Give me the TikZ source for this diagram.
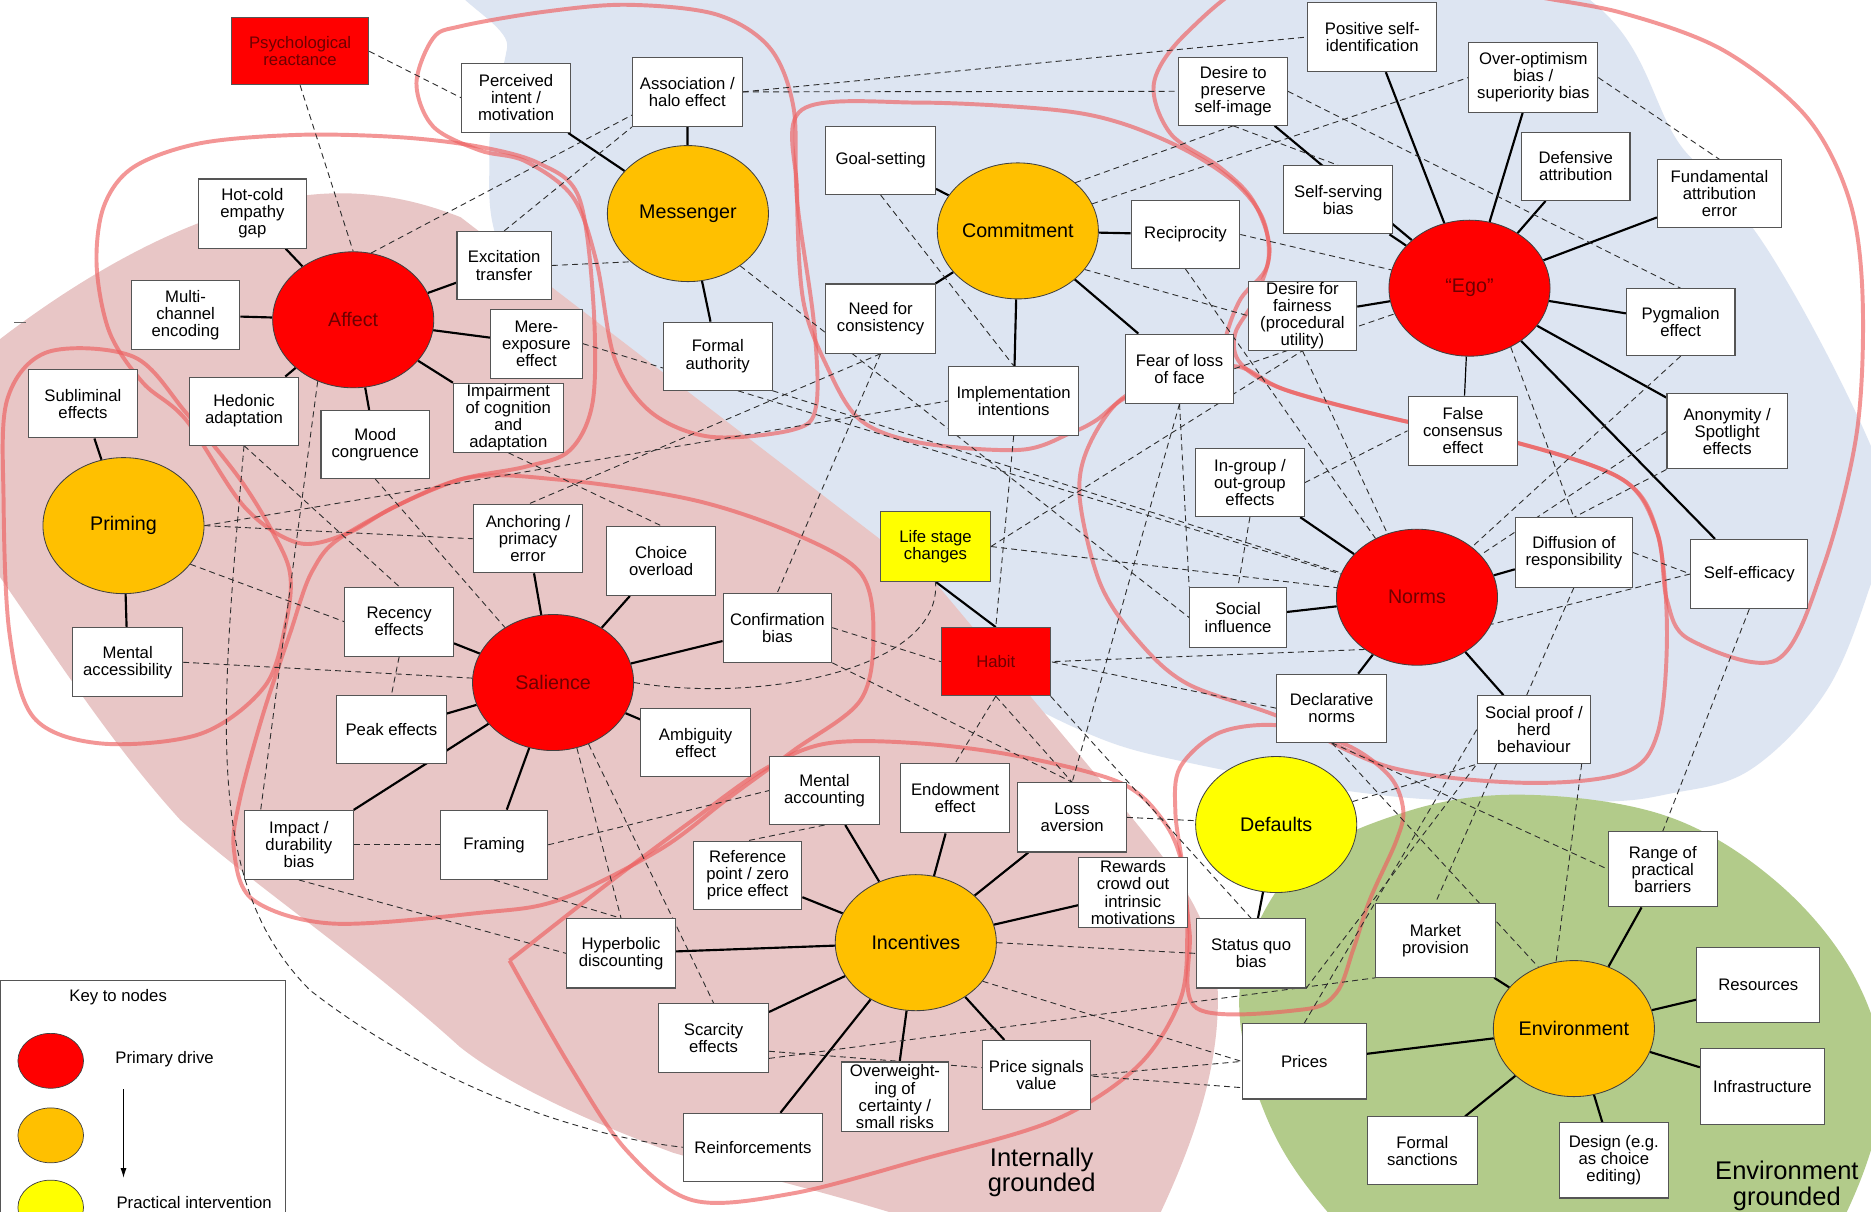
\documentclass[tikz,border=0pt]{standalone}
\usepackage{fontspec}
\setmainfont{Liberation Sans}
\usetikzlibrary{shapes.geometric,calc,arrows.meta}
\definecolor{pinkbg}{RGB}{232,198,198}
\definecolor{bluebg}{RGB}{221,229,242}
\definecolor{greenbg}{RGB}{178,203,138}
\definecolor{loopred}{RGB}{238,95,95}
\definecolor{hubred}{RGB}{255,0,0}
\definecolor{hubor}{RGB}{255,192,0}
\definecolor{hubyel}{RGB}{255,255,0}
\definecolor{redtxt}{RGB}{110,0,0}
\definecolor{boxline}{RGB}{85,85,85}
\definecolor{dashc}{RGB}{45,45,45}
\pgfdeclarelayer{bglayer}
\pgfdeclarelayer{looplayer}
\pgfdeclarelayer{edgelayer}
\pgfsetlayers{bglayer,looplayer,edgelayer,main}
\begin{document}
\begin{tikzpicture}[x=1pt,y=-1pt,
  bx/.style={draw=boxline,line width=0.9pt,fill=white,align=center,inner sep=1pt,font=\fontsize{14}{14.3}\selectfont,text=black},
  B/.style n args={2}{bx,minimum width=#1,minimum height=#2},
  hub/.style n args={2}{ellipse,draw=black!75,line width=0.7pt,fill=#1,text=#2,minimum width=135,minimum height=114,inner sep=0pt,font=\fontsize{16.5}{18}\selectfont},
  keyell/.style={ellipse,draw=black!75,line width=0.6pt,minimum width=55,minimum height=46,inner sep=0pt},
  sol/.style={line width=1.8pt,black},
  dsh/.style={draw=dashc,line width=0.75pt,dash pattern=on 5pt off 3.5pt},
  lp/.style={draw=loopred,line width=3.3pt,opacity=0.65,line join=round},
  big/.style={align=center,font=\fontsize{21.4}{21.5}\selectfont},
]
\useasboundingbox (0,0) rectangle (1568,1015);

% ---------------- hubs
\node[hub={hubred}{redtxt}] (aff) at (296,268) {Affect};
\node[hub={hubor}{black}] (mess) at (576.5,179) {Messenger};
\node[hub={hubor}{black}] (comm) at (853,193.5) {Commitment};
\node[hub={hubred}{redtxt}] (ego) at (1231.5,241.5) {``Ego''};
\node[hub={hubred}{redtxt}] (norms) at (1187.5,500.5) {Norms};
\node[hub={hubor}{black}] (prim) at (103.5,440.5) {Priming};
\node[hub={hubred}{redtxt}] (sal) at (463.5,572) {Salience};
\node[hub={hubor}{black}] (inc) at (767.5,790) {Incentives};
\node[hub={hubyel}{black}] (defaults) at (1069.5,691) {Defaults};
\node[hub={hubor}{black}] (env) at (1319,862) {Environment};

% ---------------- boxes
\node[B={115}{56},fill=hubred,text=redtxt] (psych) at (251.5,43) {Psychological\\reactance};
\node[B={91}{58}] (perc) at (432.5,82) {Perceived\\intent /\\motivation};
\node[B={92}{58}] (assoc) at (576,77) {Association /\\halo effect};
\node[B={91}{58}] (hotcold) at (211.5,179) {Hot-cold\\empathy\\gap};
\node[B={91}{58}] (multi) at (155.5,264) {Multi-\\channel\\encoding};
\node[B={79}{57}] (excit) at (422.5,222.5) {Excitation\\transfer};
\node[B={77}{58}] (mere) at (449.5,288) {Mere-\\exposure\\effect};
\node[B={92}{58}] (impair) at (426,350) {Impairment\\of cognition\\and\\adaptation};
\node[B={91}{57}] (subl) at (69.5,338.5) {Subliminal\\effects};
\node[B={91}{57}] (hedonic) at (204.5,344.5) {Hedonic\\adaptation};
\node[B={91}{57}] (mood) at (314.5,372.5) {Mood\\congruence};
\node[B={92}{57}] (goal) at (738,134.5) {Goal-setting};
\node[B={92}{58}] (need) at (738,267) {Need for\\consistency};
\node[B={91}{57}] (formal) at (601.5,298.5) {Formal\\authority};
\node[B={109}{58}] (impl) at (849.5,336) {Implementation\\intentions};
\node[B={91}{57}] (recip) at (993.5,196.5) {Reciprocity};
\node[B={91}{58}] (fear) at (988.5,309) {Fear of loss\\of face};
\node[B={91}{57}] (desirepres) at (1033.5,76.5) {Desire to\\preserve\\self-image};
\node[B={108}{58}] (posself) at (1150,31) {Positive self-\\identification};
\node[B={108}{58}] (overopt) at (1285,65) {Over-optimism\\bias /\\superiority bias};
\node[B={91}{57}] (defens) at (1320.5,139.5) {Defensive\\attribution};
\node[B={104}{57}] (fundam) at (1441,162.5) {Fundamental\\attribution\\error};
\node[B={91}{57}] (selfserv) at (1121.5,167.5) {Self-serving\\bias};
\node[B={91}{57}] (fairness) at (1091.5,264.5) {Desire for\\fairness\\(procedural\\utility)};
\node[B={91}{56}] (pygm) at (1408.5,270) {Pygmalion\\effect};
\node[B={92}{58}] (falsecons) at (1226,361) {False\\consensus\\effect};
\node[B={101}{63}] (anon) at (1447.5,361.5) {Anonymity /\\Spotlight\\effects};
\node[B={91}{57}] (ingroup) at (1047.5,404.5) {In-group /\\out-group\\effects};
\node[B={98}{58}] (diffusion) at (1319,463) {Diffusion of\\responsibility};
\node[B={98}{58}] (selfeff) at (1466,481) {Self-efficacy};
\node[B={81}{51}] (socinf) at (1037.5,517.5) {Social\\influence};
\node[B={92}{58},fill=hubyel] (life) at (784,458) {Life stage\\changes};
\node[B={91}{57},fill=hubred,text=redtxt] (habit) at (834.5,554.5) {Habit};
\node[B={92}{57}] (decl) at (1116,593.5) {Declarative\\norms};
\node[B={95}{57}] (socproof) at (1285.5,611.5) {Social proof /\\herd\\behaviour};
\node[B={91}{57}] (anchor) at (442.5,451.5) {Anchoring /\\primacy\\error};
\node[B={92}{58}] (choice) at (554,470) {Choice\\overload};
\node[B={91}{58}] (confirm) at (651.5,526) {Confirmation\\bias};
\node[B={91}{58}] (recency) at (334.5,521) {Recency\\effects};
\node[B={92}{58}] (mentacc) at (107,555) {Mental\\accessibility};
\node[B={92}{57}] (peak) at (328,611.5) {Peak effects};
\node[B={92}{57}] (ambig) at (583,622.5) {Ambiguity\\effect};
\node[B={92}{57}] (mentacct) at (691,662.5) {Mental\\accounting};
\node[B={91}{58}] (endow) at (800.5,669) {Endowment\\effect};
\node[B={91}{58}] (loss) at (898.5,685) {Loss\\aversion};
\node[B={91}{58}] (impact) at (250.5,708) {Impact /\\durability\\bias};
\node[B={90}{58}] (framing) at (414,708) {Framing};
\node[B={91}{57}] (refpt) at (626.5,733.5) {Reference\\point / zero\\price effect};
\node[B={91}{58}] (rewards) at (949.5,748) {Rewards\\crowd out\\intrinsic\\motivations};
\node[B={91}{58}] (hyper) at (520.5,799) {Hyperbolic\\discounting};
\node[B={91}{58}] (statusquo) at (1048.5,799) {Status quo\\bias};
\node[B={100}{62}] (market) at (1203,788) {Market\\provision};
\node[B={91}{63}] (range) at (1393.5,728.5) {Range of\\practical\\barriers};
\node[B={103}{63}] (resources) at (1473.5,825.5) {Resources};
\node[B={104}{63}] (infra) at (1477,910.5) {Infrastructure};
\node[B={92}{57}] (formalsanc) at (1192,964.5) {Formal\\sanctions};
\node[B={91}{63}] (design) at (1352.5,972.5) {Design (e.g.\\as choice\\editing)};
\node[B={104}{63}] (prices) at (1093,889.5) {Prices};
\node[B={92}{58}] (scarcity) at (598,870) {Scarcity\\effects};
\node[B={90}{58}] (overw) at (750,919) {Overweight-\\ing of\\certainty /\\small risks};
\node[B={91}{58}] (pricesig) at (868.5,901) {Price signals\\value};
\node[B={116}{57}] (reinf) at (631,961.5) {Reinforcements};

% ---------------- labels
\node[big] (intg) at (873,982.5) {Internally\\grounded};
\node[big] (envg) at (1497.5,994) {Environment\\grounded};

% ---------------- key
\draw[draw=boxline,fill=white,line width=0.9pt] (0,822) rectangle (239,1030);
\node[font=\fontsize{14}{16}\selectfont] (keyt) at (99,836) {Key to nodes};
\node[keyell,fill=hubred] (kred) at (42.5,889) {};
\node[keyell,fill=hubor] (kor) at (42.5,951.5) {};
\node[keyell,fill=hubyel] (kyel) at (42.5,1012) {};
\node[anchor=west,inner sep=0pt,font=\fontsize{14}{16}\selectfont] (kprim) at (96.5,888) {Primary drive};
\node[anchor=west,inner sep=0pt,font=\fontsize{14}{16}\selectfont] (kprac) at (97.5,1008) {Practical intervention};
\coordinate (ka) at (103.5,913);
\coordinate (kb) at (103.5,987);
\draw[-{Latex[length=8pt,width=5pt]},line width=0.8pt] (ka) -- (kb);

% ---------------- backgrounds
\begin{pgfonlayer}{bglayer}
\fill[white] (0,0) rectangle (1568,1015);
\fill[bluebg] plot[smooth cycle,tension=0.6] coordinates {(440,-40) (1230,-40) (1416,131) (1500,240) (1585,420) (1567,492) (1530,580) (1467,645) (1400,665) (1333,672) (1173,668) (1000,640) (899,609) (760,530) (560,390) (430,230) (410,130) (425,40)};
\fill[pinkbg] (-20,300) .. controls (60,235) and (180,160) .. (290,162) .. controls (330,163) and (360,172) .. (386,182) -- (782,486) -- (950,687) .. controls (985,730) and (1015,770) .. (1020,820) .. controls (1025,890) and (1000,960) .. (966,1030) -- (790,1030) .. controls (700,1000) and (630,985) .. (564,966) .. controls (480,935) and (420,905) .. (385,877) .. controls (300,800) and (210,740) .. (151,687) .. controls (90,620) and (40,540) .. (-20,455) -- cycle;
\fill[greenbg] plot[smooth cycle,tension=0.6] coordinates {(1040,820) (1085,728) (1176,681) (1276,666) (1397,684) (1490,740) (1555,820) (1578,910) (1548,1015) (1480,1120) (1250,1150) (1112,1015) (1055,920)};
\draw[black!60,line width=1pt] (12,270) -- (22,270);
\end{pgfonlayer}

% ---------------- red group outlines
\begin{pgfonlayer}{looplayer}
\draw[lp] plot[smooth cycle,tension=0.55] coordinates {(6,335) (40,295) (112,299) (156,346) (200,400) (228,445) (243,480) (240,520) (222,575) (168,615) (84,623) (28,601) (8,531) (3,420)};
\draw[lp] plot[smooth cycle,tension=0.55] coordinates {(402,123) (452,137) (485,165) (497,250) (497,335) (478,377) (441,391) (385,402) (330,425) (291,447) (250,455) (205,425) (156,352) (120,321) (92,279) (81,223) (87,173) (112,140) (168,120) (251,113) (335,115)};
\draw[lp] plot[smooth cycle,tension=0.55] coordinates {(386,22) (455,10) (525,4) (600,12) (645,40) (665,90) (668,168) (682,270) (684,340) (665,360) (595,366) (545,345) (515,300) (500,220) (480,165) (440,135) (402,126) (363,106) (349,70) (363,32)};
\draw[lp] plot[smooth cycle,tension=0.55] coordinates {(672,92) (771,86) (883,92) (939,103) (994,126) (1036,154) (1059,185) (1062,223) (1040,250) (1028,280) (1025,305) (985,322) (944,333) (919,352) (897,363) (855,377) (771,371) (721,352) (693,307) (673,251) (668,160)};
\draw[lp] plot[smooth cycle,tension=0.55] coordinates {(1060,-20) (994,28) (967,70) (981,112) (1022,140) (1050,168) (1064,209) (1052,250) (1035,280) (1040,305) (1078,327) (1173,352) (1271,371) (1360,402) (1389,447) (1397,503) (1416,536) (1489,553) (1528,475) (1556,363) (1561,251) (1550,168) (1514,98) (1444,42) (1360,11) (1277,-5) (1170,-30)};
\draw[lp] plot[smooth cycle,tension=0.55] coordinates {(939,335) (985,316) (1036,307) (1078,327) (1173,352) (1271,371) (1360,402) (1389,447) (1397,531) (1389,615) (1360,648) (1276,656) (1165,643) (1073,601) (995,573) (953,536) (922,489) (905,419) (911,377)};
\draw[lp] plot[smooth cycle,tension=0.55] coordinates {(291,447) (385,402) (469,402) (581,419) (665,447) (721,480) (732,531) (721,587) (665,629) (609,670) (553,712) (469,754) (402,765) (279,774) (212,754) (196,712) (201,670) (220,600) (243,531) (262,478)};
\draw[lp] plot[smooth,tension=0.55] coordinates {(427,805) (510,740) (581,687) (640,645) (693,623) (771,623) (855,634) (939,656) (975,688) (991,726) (995,782) (989,838) (953,894) (883,939) (771,972) (665,1000) (581,1006) (525,964) (478,894) (427,805)};
\draw[lp] plot[smooth cycle,tension=0.55] coordinates {(989,643) (1022,614) (1073,608) (1130,625) (1165,651) (1176,679) (1170,705) (1148,754) (1134,796) (1120,832) (1092,846) (1003,845) (997,782) (991,726) (985,680)};
\end{pgfonlayer}

% ---------------- connectors
\begin{pgfonlayer}{edgelayer}
% solid hub links
\foreach \t in {hotcold,multi,excit,mere,impair,mood,hedonic} \draw[sol] (aff) -- (\t);
\foreach \t in {perc,assoc,formal} \draw[sol] (mess) -- (\t);
\foreach \t in {goal,need,recip,impl,fear} \draw[sol] (comm) -- (\t);
\foreach \t in {desirepres,posself,overopt,defens,fundam,selfserv,fairness,pygm,anon,selfeff} \draw[sol] (ego) -- (\t);
\draw[line width=1pt,black] (ego) -- (falsecons);
\foreach \t in {ingroup,socinf,diffusion,decl,socproof} \draw[sol] (norms) -- (\t);
\foreach \t in {subl,mentacc} \draw[sol] (prim) -- (\t);
\foreach \t in {anchor,choice,confirm,recency,peak,ambig,impact,framing} \draw[sol] (sal) -- (\t);
\foreach \t in {mentacct,endow,loss,refpt,rewards,hyper,scarcity,reinf,overw,pricesig} \draw[sol] (inc) -- (\t);
\foreach \t in {market,range,resources,infra,design,formalsanc,prices} \draw[sol] (env) -- (\t);
\draw[sol] (life.south) -- (habit.north);
\draw[sol] (defaults) -- (statusquo);

% dashed cross links
\draw[dsh] (psych.east) -- (perc.west);
\draw[dsh] (psych.south) -- (aff.north);
\draw[dsh] (aff.75) -- ($(assoc.south west)+(0,-10)$);
\draw[dsh] (excit.north) -- (assoc.south west);
\draw[dsh] (excit.east) -- (mess.220);
\draw[dsh] (assoc.east) -- (posself.west);
\draw[dsh] (assoc.east) -- (desirepres.west);
\draw[dsh] (mess.-45) -- (socinf.west);
\draw[dsh] (formal.south east) -- (norms);
\draw[dsh] (mere.east) -- (norms);
\draw[dsh] (need.south) -- (anchor.north);
\draw[dsh] (need.south) -- (confirm.north);
\draw[dsh] (goal.south) -- (impl.north);
\draw[dsh] (comm.40) -- (desirepres.south);
\draw[dsh] (comm.20) -- (overopt.west);
\draw[dsh] (comm.-30) -- (fairness.west);
\draw[dsh] (recip.east) -- (ego);
\draw[dsh] (recip.south) -- (norms);
\draw[dsh] (desirepres.south) -- (selfserv.north);
\draw[dsh] (desirepres.east) -- (pygm.north);
\draw[dsh] (overopt.east) -- (fundam.north);
\draw[dsh] (pygm.south) -- (norms);
\draw[dsh] (anon.west) -- (norms);
\draw[dsh] (anon.south west) -- (diffusion.north);
\draw[dsh] (ingroup.east) -- (falsecons.west);
\draw[dsh] (fear.east) -- (ego);
\draw[dsh] (ego.-55) -- (diffusion.north);
\draw[dsh] (diffusion.east) -- (selfeff.west);
\draw[dsh] (selfeff.west) -- (norms.-20);
\draw[dsh] (selfeff.south) -- (range.north);
\draw[dsh] (diffusion.south) -- (market.north);
\draw[dsh] ([xshift=40pt]socproof.south) -- (env.105);
\draw[dsh] (socproof.west) -- (prices.north);
\draw[dsh] (statusquo.south east) -- (socproof.south west);
\draw[dsh] (decl.south) -- (range.west);
\draw[dsh] (decl.south) -- (env.120);
\draw[dsh] (defaults) -- (socproof.south west);
\draw[dsh] (loss.east) -- (defaults);
\draw[dsh] (inc.east) -- (statusquo.west);
\draw[dsh] (inc.-30) -- (prices.west);
\draw[dsh] (pricesig.east) -- (prices.west);
\draw[dsh] ([yshift=-11pt]scarcity.east) -- ([yshift=-22pt]prices.west);
\draw[dsh] ([yshift=-17pt]scarcity.east) -- (market.south west);
\draw[dsh] (habit.south east) -- (statusquo.north);
\draw[dsh] (fear.south) -- (loss.north);
\draw[dsh] (fear.south) -- (socinf.north west);
\draw[dsh] (impl.south) -- (habit.north);
\draw[dsh] (life.east) -- (fairness.south);
\draw[dsh] (life.east) -- (norms);
\draw[dsh] (ingroup.south) -- (socinf.north);
\draw[dsh] (fairness.south) -- (norms);
\draw[dsh] (norms.225) -- (habit.east);
\draw[dsh] (decl.west) -- (habit.east);
\draw[dsh] (habit.south) -- (endow.north);
\draw[dsh] (habit.south) -- (loss.north);
\draw[dsh] (confirm.east) -- (habit.west);
\draw[dsh] (confirm.south east) -- (loss.north);
\draw[dsh] (sal.east) .. controls (640,590) and (790,560) .. (life.south);
\draw[dsh] (prim.east) -- (anchor.west);
\draw[dsh] (prim.east) -- (impl.west);
\draw[dsh] (prim.-30) -- (recency.west);
\draw[dsh] (mentacc.east) -- (sal);
\draw[dsh] (hedonic.south) .. controls (185,600) and (170,740) .. (260,830) .. controls (350,900) and (470,950) .. (reinf.west);
\draw[dsh] (aff.240) -- ([xshift=-32pt]impact.north);
\draw[dsh] (hedonic.south) -- (recency.north);
\draw[dsh] (mood.south) -- (sal);
\draw[dsh] (recency.south) -- (peak.north);
\draw[dsh] (impair.south) -- (choice.north);
\draw[dsh] (impact.east) -- (framing.west);
\draw[dsh] (impact.south) -- (hyper.west);
\draw[dsh] (framing.east) -- (mentacct.west);
\draw[dsh] (framing.south) -- (hyper.north);
\draw[dsh] (sal.-70) -- (hyper.north);
\draw[dsh] (sal.-60) -- (scarcity.north);
\draw[dsh] (mentacct.south) -- (refpt.north);
\end{pgfonlayer}
\end{tikzpicture}
\end{document}
